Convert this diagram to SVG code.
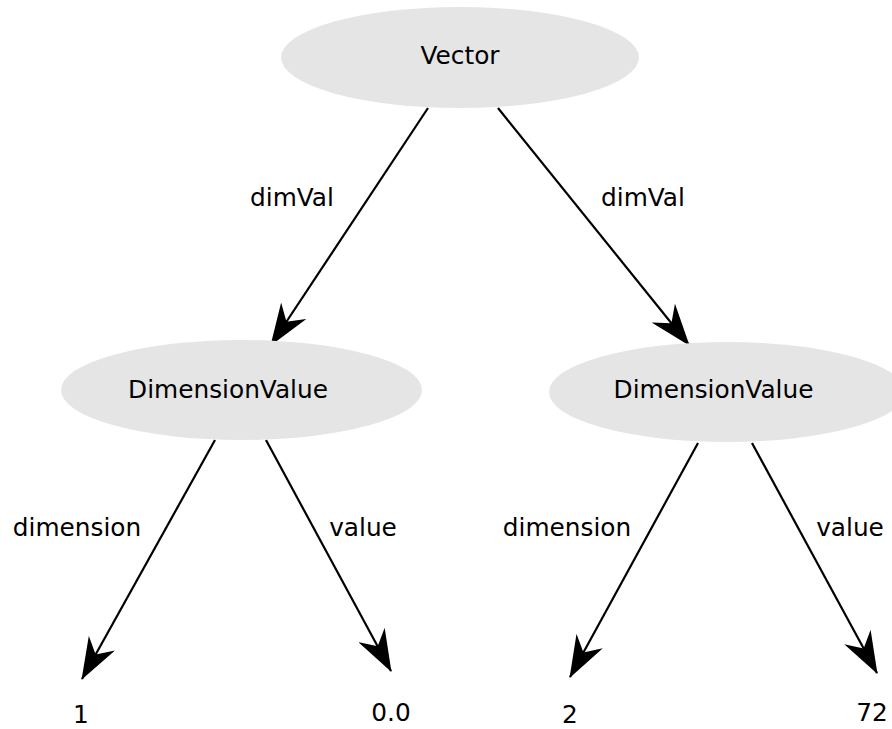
<svg xmlns="http://www.w3.org/2000/svg" width="892" height="729" viewBox="0 0 892 729">
<style>
.node{fill:#e5e5e5;stroke:none}
text{font-family:"DejaVu Sans",sans-serif;font-size:24.8px;fill:#000;text-anchor:middle}
.edge{stroke:#000;stroke-width:2.2;fill:none;marker-end:url(#arr)}
</style>
<defs>
<marker id="arr" markerUnits="userSpaceOnUse" viewBox="0 0 42 30" refX="41" refY="15" markerWidth="42" markerHeight="30" orient="auto">
<path d="M42,15 L0,0 L13,15 L0,30 Z" fill="#000"/>
</marker>
</defs>
<rect width="892" height="729" fill="#fff"/>
<g id="connectors">
<line class="edge" x1="428" y1="108" x2="271" y2="345"/>
<line class="edge" x1="498" y1="108" x2="689" y2="345"/>
<line class="edge" x1="215" y1="440" x2="82" y2="679"/>
<line class="edge" x1="266" y1="440" x2="391" y2="671"/>
<line class="edge" x1="698" y1="443" x2="570" y2="677"/>
<line class="edge" x1="752" y1="443" x2="877" y2="673"/>
<text x="292" y="206">dimVal</text>
<text x="643" y="206">dimVal</text>
<text x="77" y="536">dimension</text>
<text x="363" y="536">value</text>
<text x="567" y="536">dimension</text>
<text x="850" y="536">value</text>
</g>
<g id="vector">
<ellipse class="node" cx="460" cy="57.5" rx="179" ry="50.5"/>
<text x="460" y="64">Vector</text>
</g>
<g id="dv1">
<ellipse class="node" cx="241.5" cy="390" rx="180.5" ry="50"/>
<text x="228" y="398">DimensionValue</text>
</g>
<g id="dv2">
<ellipse class="node" cx="727" cy="392" rx="178" ry="50"/>
<text x="713.5" y="398">DimensionValue</text>
</g>
<g id="leaf1"><text x="81" y="722.5">1</text></g>
<g id="leaf00"><text x="391" y="721">0.0</text></g>
<g id="leaf2"><text x="570" y="722.5">2</text></g>
<g id="leaf72"><text x="872" y="721">72</text></g>
</svg>
